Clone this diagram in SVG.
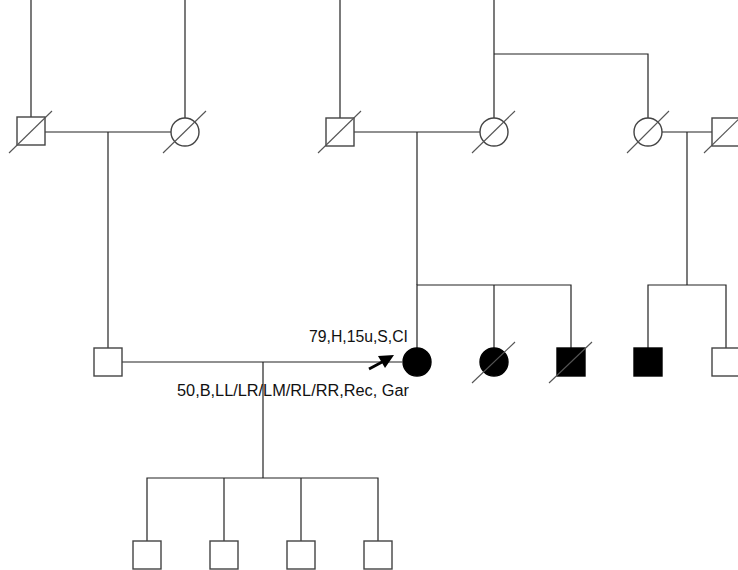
<svg xmlns="http://www.w3.org/2000/svg" width="738" height="570" viewBox="0 0 738 570">
<style>
.ln{stroke:#222;stroke-width:1.2;fill:none}
.sym{stroke:#444;stroke-width:1.4;fill:#fff}
.aff{stroke:#000;stroke-width:1.4;fill:#000}
.sl{stroke:#555;stroke-width:1.1}
.t{font-family:"Liberation Sans",Arial,sans-serif;font-size:16px;fill:#111}
</style>
<rect width="738" height="570" fill="#fff"/>
<g id="connectors">
<line class="ln" x1="31" y1="0" x2="31" y2="117"/>
<line class="ln" x1="185" y1="0" x2="185" y2="118"/>
<line class="ln" x1="45" y1="132" x2="171" y2="132"/>
<line class="ln" x1="108" y1="132" x2="108" y2="348"/>
<line class="ln" x1="340" y1="0" x2="340" y2="118"/>
<line class="ln" x1="494" y1="0" x2="494" y2="118"/>
<polyline class="ln" points="494,54 648,54 648,118"/>
<line class="ln" x1="354" y1="132" x2="480" y2="132"/>
<line class="ln" x1="417" y1="132" x2="417" y2="285"/>
<polyline class="ln" points="417,348 417,285 571,285 571,348"/>
<line class="ln" x1="494" y1="285" x2="494" y2="348"/>
<line class="ln" x1="662" y1="132" x2="712" y2="132"/>
<line class="ln" x1="687" y1="132" x2="687" y2="285"/>
<polyline class="ln" points="648,348 648,285 726,285 726,348"/>
<line class="ln" x1="122" y1="362" x2="402" y2="362"/>
<line class="ln" x1="263" y1="362" x2="263" y2="478"/>
<polyline class="ln" points="147,541 147,478 378,478 378,541"/>
<line class="ln" x1="224" y1="478" x2="224" y2="541"/>
<line class="ln" x1="301" y1="478" x2="301" y2="541"/>
</g>
<g id="gp1-m">
<rect class="sym" x="17" y="117" width="28" height="28"/>
<line class="sl" x1="9" y1="153" x2="52" y2="111"/>
</g>
<g id="gp1-f">
<circle class="sym" cx="185" cy="132" r="14"/>
<line class="sl" x1="163" y1="153" x2="206" y2="111"/>
</g>
<g id="gp2-m">
<rect class="sym" x="326" y="118" width="28" height="28"/>
<line class="sl" x1="318" y1="153" x2="361" y2="111"/>
</g>
<g id="gp2-f">
<circle class="sym" cx="494" cy="132" r="14"/>
<line class="sl" x1="472" y1="153" x2="515" y2="111"/>
</g>
<g id="gp3-f">
<circle class="sym" cx="648" cy="132" r="14"/>
<line class="sl" x1="627" y1="153" x2="669" y2="111"/>
</g>
<g id="gp3-m">
<rect class="sym" x="712" y="118" width="28" height="28"/>
<line class="sl" x1="704" y1="153" x2="747" y2="111"/>
</g>
<g id="father">
<rect class="sym" x="94" y="348" width="28" height="28"/>
</g>
<g id="proband">
<circle class="aff" cx="417" cy="362" r="14"/>
<line x1="369" y1="369" x2="384" y2="361" stroke="#000" stroke-width="2.8"/>
<polygon points="394,355 378,356 385,368" fill="#000"/>
<text class="t" x="309" y="342" textLength="99" lengthAdjust="spacingAndGlyphs">79,H,15u,S,CI</text>
<text class="t" x="177" y="396" textLength="232" lengthAdjust="spacingAndGlyphs">50,B,LL/LR/LM/RL/RR,Rec, Gar</text>
</g>
<g id="sib1">
<circle class="aff" cx="494" cy="362" r="14"/>
<line class="sl" x1="472" y1="383" x2="515" y2="342"/>
</g>
<g id="sib2">
<rect class="aff" x="557" y="348" width="28" height="28"/>
<line class="sl" x1="549" y1="383" x2="592" y2="342"/>
</g>
<g id="cousin1">
<rect class="aff" x="634" y="348" width="28" height="28"/>
</g>
<g id="cousin2">
<rect class="sym" x="712" y="348" width="28" height="28"/>
</g>
<g id="child1"><rect class="sym" x="133" y="541" width="28" height="28"/></g>
<g id="child2"><rect class="sym" x="210" y="541" width="28" height="28"/></g>
<g id="child3"><rect class="sym" x="287" y="541" width="28" height="28"/></g>
<g id="child4"><rect class="sym" x="364" y="541" width="28" height="28"/></g>
</svg>
